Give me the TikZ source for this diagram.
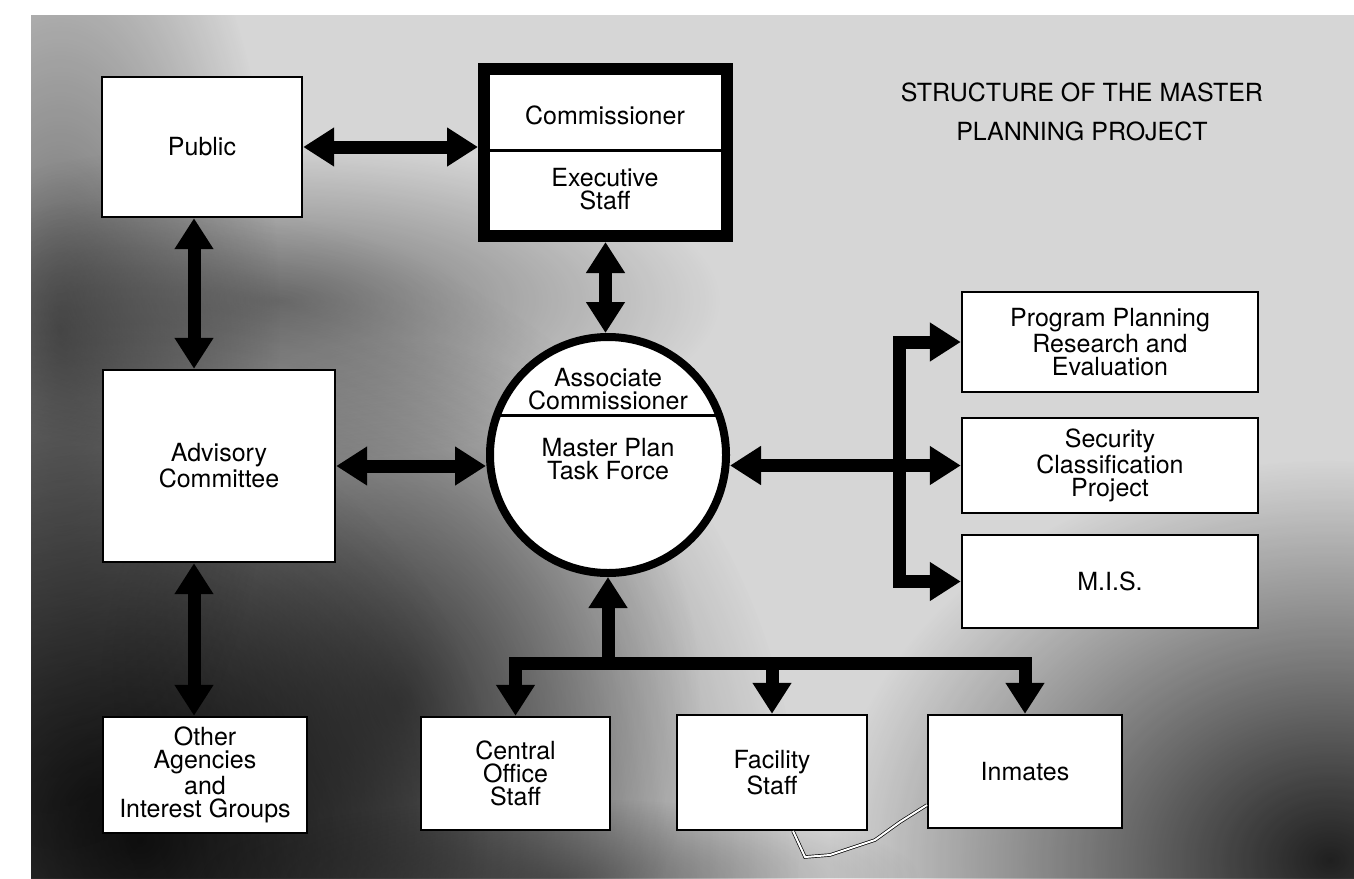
\documentclass[tikz,border=0pt]{standalone}
\usepackage{fontspec}
\setmainfont{TeX Gyre Heros}
\usetikzlibrary{arrows.meta,fadings}
\tikzfading[name=softblob, inner color=transparent!0, outer color=transparent!100]
\begin{document}
\begin{tikzpicture}[x=0.5pt,y=-0.5pt,
  box/.style={draw=black, line width=1.2pt, fill=white, inner sep=0pt, align=center,
              font=\fontsize{12.5}{11.5}\selectfont},
  lbl/.style={align=center, inner sep=0pt, font=\fontsize{12.5}{11.5}\selectfont},
  arr/.style={line width=6.5pt, line join=miter, >={Triangle[width=18.5pt,length=15.5pt]}},
  blob/.style={fill=black, path fading=softblob},
  scratch/.style={draw=black, line width=0.35pt, double=white, double distance=1pt}]
\useasboundingbox (0,0) rectangle (1354,878);
\fill[white] (0,0) rectangle (1354,878);
% speckled background
\begin{scope}
  \clip (31,15) rectangle (1354,878);
  \fill[black!16] (31,15) rectangle (1354,878);
  \fill[blob, fill opacity=0.85] (140,840) ellipse [x radius=330pt, y radius=320pt];
  \fill[blob, fill opacity=0.6] (90,800) ellipse [x radius=200pt, y radius=200pt];
  \fill[blob, fill opacity=0.5] (400,700) ellipse [x radius=150pt, y radius=180pt];
  \fill[blob, fill opacity=0.5] (60,330) ellipse [x radius=110pt, y radius=260pt];
  \fill[blob, fill opacity=0.45] (280,300) ellipse [x radius=220pt, y radius=80pt];
  \fill[blob, fill opacity=0.85] (1330,860) ellipse [x radius=250pt, y radius=200pt];
  \fill[blob, fill opacity=0.4] (560,878) ellipse [x radius=180pt, y radius=40pt];
\end{scope}
% boxes
\node[box, minimum width=100pt, minimum height=70pt] (pub) at (202,147) {Public};
\node[box, minimum width=116pt, minimum height=96pt] (adv) at (219,466) {Advisory\\Committee};
\node[box, minimum width=102pt, minimum height=58pt] (oth) at (205,775) {Other\\Agencies\\and\\Interest Groups};
\node[draw=black, line width=6pt, fill=white, inner sep=0pt, minimum width=121.5pt, minimum height=83.5pt] (comm) at (605.5,152.5) {};
\draw[line width=1.5pt] (comm.west |- 0,150) -- (comm.east |- 0,150);
\node[lbl] (commtxt) at (605,115) {Commissioner};
\node[lbl] (exectxt) at (605,189) {Executive\\Staff};
\node[circle, draw=black, line width=4pt, fill=white, inner sep=0pt, minimum size=118pt] (tf) at (608,455) {};
\draw[line width=1.5pt] (tf.161) -- (tf.19);
\node[lbl] (assoc) at (608,389) {Associate\\Commissioner};
\node[lbl] (mptf) at (608,459) {Master Plan\\Task Force};
\node[box, minimum width=148pt, minimum height=50pt] (prog) at (1110,342) {Program Planning\\Research and\\Evaluation};
\node[box, minimum width=148pt, minimum height=47.5pt] (sec) at (1110,465.5) {Security\\Classification\\Project};
\node[box, minimum width=148pt, minimum height=46.5pt] (mis) at (1110,581.5) {M.I.S.};
\node[box, minimum width=94.5pt, minimum height=56.5pt] (cen) at (515.5,773.5) {Central\\Office\\Staff};
\node[box, minimum width=95pt, minimum height=57.5pt] (fac) at (772,772.5) {Facility\\Staff};
\node[box, minimum width=97pt, minimum height=56.5pt] (inm) at (1025,771.5) {Inmates};
\node[lbl, font=\fontsize{12.5}{19.5}\selectfont] (title) at (1082,112) {STRUCTURE OF THE MASTER\\PLANNING PROJECT};
% connectors
\coordinate (vx) at (194,0);
\coordinate (bx) at (899,0);
\coordinate (by) at (0,663);
\draw[arr,<->] (vx |- pub.south) -- (vx |- adv.north);
\draw[arr,<->] (vx |- adv.south) -- (vx |- oth.north);
\draw[arr,<->] (pub.east) -- (pub.east -| comm.west);
\draw[arr,<->] (comm.south) -- (comm.south |- tf.north);
\draw[arr,<->] (adv.east) -- (adv.east -| tf.west);
\draw[arr,<->] (tf.east |- sec.west) -- (sec.west);
\draw[arr,<->] (prog.west) -- (bx |- prog.west) -- (bx |- mis.west) -- (mis.west);
\draw[arr,->] (tf.south |- by) -- (tf.south);
\draw[arr,<->] (cen.north) -- (cen.north |- by) -- (inm.north |- by) -- (inm.north);
\draw[arr,->] (fac.north |- by) -- (fac.north);
% scratch mark
\draw[scratch] (793,831) -- (805,857) -- (830,855) -- (875,840) -- (900,822) -- (927,805);
\end{tikzpicture}
\end{document}
